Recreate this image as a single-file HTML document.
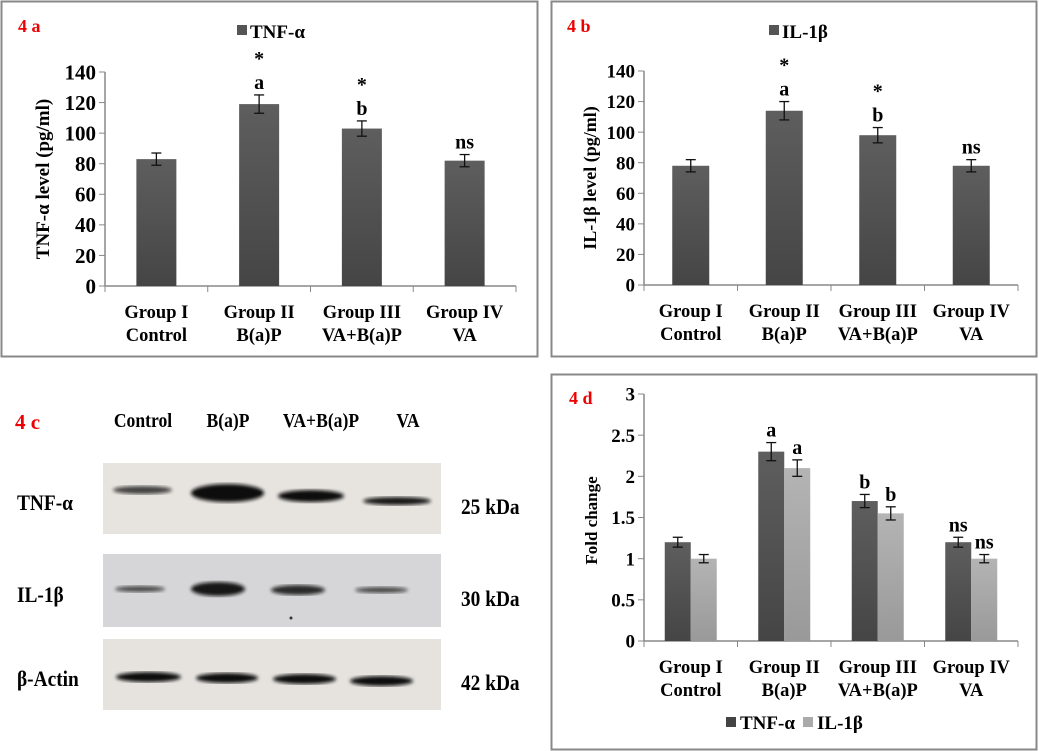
<!DOCTYPE html>
<html><head><meta charset="utf-8"><style>
body{margin:0;background:#fff;width:1039px;height:751px;overflow:hidden}
svg{display:block}
text{font-family:"Liberation Serif",serif;font-weight:bold;fill:#000}
</style></head><body>
<svg id="s" width="1039" height="751">
<defs>
<linearGradient id="gd" x1="0" y1="0" x2="0" y2="1"><stop offset="0" stop-color="#5e5e5e"/><stop offset="1" stop-color="#454545"/></linearGradient>
<linearGradient id="gl" x1="0" y1="0" x2="0" y2="1"><stop offset="0" stop-color="#b4b4b4"/><stop offset="1" stop-color="#999"/></linearGradient>
<filter id="bl"><feGaussianBlur stdDeviation="1.8"/></filter>
</defs>
<rect x="1.5" y="1.5" width="536" height="355" fill="none" stroke="#888" stroke-width="2"/>
<rect x="551.5" y="1.5" width="485" height="355" fill="none" stroke="#888" stroke-width="2"/>
<rect x="551.5" y="374.5" width="485" height="375" fill="none" stroke="#888" stroke-width="2"/>
<g id="a"></g><g id="b"></g><g id="c"></g><g id="d"></g>
</svg>
<script>
const cats1=["Group I","Group II","Group III","Group IV"];
const cats2=["Control","B(a)P","VA+B(a)P","VA"];
const tnfVals=[83,119,103,82];
const tnfErr=[4,6,5,4];
const tnfNotes=[[],["*","a"],["*","b"],["ns"]];
const ilVals=[78,114,98,78];
const ilErr=[4,6,5,4];
const ilNotes=[[],["*","a"],["*","b"],["ns"]];
const foldTnf=[1.2,2.3,1.7,1.2];
const foldTnfErr=[0.06,0.11,0.08,0.06];
const foldIl=[1.0,2.1,1.55,1.0];
const foldIlErr=[0.05,0.1,0.08,0.05];
const foldNotesTnf=["","a","b","ns"];
const foldNotesIl=["","a","b","ns"];
const ticks140=[0,20,40,60,80,100,120,140];
const ticks3=[0,0.5,1,1.5,2,2.5,3];
const NS="http://www.w3.org/2000/svg";
function mk(p,t,a,txt){const e=document.createElementNS(NS,t);for(const k in a)e.setAttribute(k,a[k]);if(txt!==undefined)e.textContent=txt;p.appendChild(e);return e;}
function axes(g,o){
  const y=v=>o.y0-(v/o.max)*(o.y0-o.yTop);
  mk(g,'line',{x1:o.ax,y1:o.yTop,x2:o.ax,y2:o.y0,stroke:'#888','stroke-width':1.5});
  mk(g,'line',{x1:o.ax,y1:o.y0,x2:o.xEnd,y2:o.y0,stroke:'#888','stroke-width':1.5});
  o.ticks.forEach(t=>{mk(g,'line',{x1:o.ax-6,y1:y(t),x2:o.ax,y2:y(t),stroke:'#888'});
    const tl=mk(g,'text',{x:o.ax-9,y:y(t)+o.tfs*0.35,'text-anchor':'end','font-size':o.tfs},String(t));
    
    });
  const step=(o.xEnd-o.ax)/4;
  for(let i=0;i<=4;i++)mk(g,'line',{x1:o.ax+i*step,y1:o.y0,x2:o.ax+i*step,y2:o.y0+6,stroke:'#888'});
  cats1.forEach((c,i)=>{const cx=o.ax+step*(i+.5);
    const t1=mk(g,'text',{x:cx,y:o.y0+32,'text-anchor':'middle','font-size':18.5},c);
    
    
    const t2=mk(g,'text',{x:cx,y:o.y0+55,'text-anchor':'middle','font-size':18.5},cats2[i]);
    
    });
  return {y,step};
}
function errbar(g,cx,y1,y2){mk(g,'line',{x1:cx,y1:y1,x2:cx,y2:y2,stroke:'#111','stroke-width':1.3});
  mk(g,'line',{x1:cx-5,y1:y1,x2:cx+5,y2:y1,stroke:'#111','stroke-width':1.3});
  mk(g,'line',{x1:cx-5,y1:y2,x2:cx+5,y2:y2,stroke:'#111','stroke-width':1.3});}
function single(id,o,vals,errs,notes,legend,ytitle,label){
  const g=document.getElementById(id);
  const {y,step}=axes(g,o);
  vals.forEach((v,i)=>{const cx=o.ax+step*(i+.5);
    const r=mk(g,'rect',{x:cx-o.bw/2,y:y(v),width:o.bw,height:o.y0-y(v),fill:'url(#gd)'});
    
    
    errbar(g,cx,y(v+errs[i]),y(v-errs[i]));
    const n=notes[i];let yy=y(v+errs[i])-6;
    for(let k=n.length-1;k>=0;k--){const t=mk(g,'text',{x:cx,y:n[k]=='*'?yy+4:yy,'text-anchor':'middle','font-size':n[k]=='*'?20:20},n[k]);
      
      
      yy-=n[k]=='ns'?0:28;}
  });
  const lg=mk(g,'g',{});
  
  
  mk(lg,'rect',{x:o.lx,y:25,width:10,height:10,fill:'#555'});
  mk(lg,'text',{x:o.lx+13,y:38,'font-size':19},legend);
  const yt=mk(g,'text',{transform:`translate(${o.ytx},${(o.y0+o.yTop)/2}) rotate(-90)`,'text-anchor':'middle','font-size':o.ytfs},ytitle);
  
  
  const pl=mk(g,'text',{x:o.plx,y:32,'font-size':18,style:'fill:#e00'},label);
  
  
}
single('a',{ax:105,y0:286,yTop:72,xEnd:516,max:140,ticks:ticks140,tfs:21,bw:40,lx:237,ytx:49,ytfs:19,plx:18},tnfVals,tnfErr,tnfNotes,'TNF-α','TNF-α level (pg/ml)','4 a');
single('b',{ax:644,y0:285,yTop:71,xEnd:1018,max:140,ticks:ticks140,tfs:19,bw:37,lx:769,ytx:596,ytfs:18,plx:567},ilVals,ilErr,ilNotes,'IL-1β','IL-1β level (pg/ml)','4 b');
// panel d
(function(){const g=document.getElementById('d');
  const o={ax:644,y0:641,yTop:394,xEnd:1018,max:3,ticks:ticks3,tfs:19};
  const {y,step}=axes(g,o);
  const bw=26;
  foldTnf.forEach((v,i)=>{const cx=o.ax+step*(i+.5);
    const r=mk(g,'rect',{x:cx-bw,y:y(v),width:bw,height:o.y0-y(v),fill:'url(#gd)'});
    
    
    const v2=foldIl[i];
    const r2=mk(g,'rect',{x:cx,y:y(v2),width:bw,height:o.y0-y(v2),fill:'url(#gl)'});
    
    
    errbar(g,cx-bw/2,y(v+foldTnfErr[i]),y(v-foldTnfErr[i]));
    errbar(g,cx+bw/2,y(v2+foldIlErr[i]),y(v2-foldIlErr[i]));
    if(foldNotesTnf[i])mk(g,'text',{x:cx-bw/2,y:y(v+foldTnfErr[i])-6,'text-anchor':'middle','font-size':20},foldNotesTnf[i]);
    if(foldNotesIl[i])mk(g,'text',{x:cx+bw/2,y:y(v2+foldIlErr[i])-6,'text-anchor':'middle','font-size':20},foldNotesIl[i]);
  });
  const yt=mk(g,'text',{transform:`translate(597,${(o.y0+o.yTop)/2+3}) rotate(-90)`,'text-anchor':'middle','font-size':17},'Fold change');
  
  
  const pl=mk(g,'text',{x:569,y:404,'font-size':18,style:'fill:#e00'},'4 d');
  
  
  const lg=mk(g,'g',{});
  
  
  mk(lg,'rect',{x:726,y:717,width:10,height:10,fill:'#444'});
  mk(lg,'text',{x:740,y:729,'font-size':19},'TNF-α');
  mk(lg,'rect',{x:803,y:717,width:10,height:10,fill:'#aaa'});
  mk(lg,'text',{x:817,y:729,'font-size':19},'IL-1β');
})();
// panel c western blot
const laneNames=["Control","B(a)P","VA+B(a)P","VA"];
const blotRows=["TNF-α","IL-1β","β-Actin"];
const blotKda=["25 kDa","30 kDa","42 kDa"];
(function(){const g=document.getElementById('c');
  const pl=mk(g,'text',{x:15,y:429,'font-size':21,style:'fill:#e00'},'4 c');
  
  
  const lx=[143,228,321,408];
  laneNames.forEach((n,i)=>{const t=mk(g,'text',{x:lx[i],y:427,'text-anchor':'middle','font-size':20,transform:`translate(${lx[i]*0.12},0) scale(0.88,1)`},n);
    
    });
  const blots=[{y:463,h:71,bg:'#e7e4df',bands:[[113,172,490,4,0.75],[191,264,493,9,1],[278,344,496,6,1],[363,431,501,4,0.95]]},
               {y:554,h:73,bg:'#d6d6d8',bands:[[115,165,589,3,0.7],[191,245,589,7,0.95],[271,325,590,5,0.85],[355,408,590,3,0.7]]},
               {y:639,h:71,bg:'#e6e3df',bands:[[116,181,677,5,1],[196,258,678,5,1],[273,336,679,5,1],[350,413,681,5,1]]}];
  const ly=[510,602,686];
  blots.forEach((b,r)=>{
    const br=mk(g,'rect',{x:103,y:b.y,width:338,height:b.h,fill:b.bg});
    
    
    b.bands.forEach(d=>mk(g,'ellipse',{cx:(d[0]+d[1])/2,cy:d[2],rx:(d[1]-d[0])/2,ry:d[3],fill:'#111',opacity:d[4],filter:'url(#bl)'}));
    const t=mk(g,'text',{x:17,y:ly[r],'font-size':22,transform:`translate(${17*0.12},0) scale(0.88,1)`},blotRows[r]);
    
    
    const k=mk(g,'text',{x:461,y:ly[r]+4,'font-size':22,transform:`translate(${461*0.12},0) scale(0.88,1)`},blotKda[r]);
    
    
  });
  mk(g,'circle',{cx:291,cy:618,r:1.5,fill:'#333'});
})();
</script>
</body></html>
